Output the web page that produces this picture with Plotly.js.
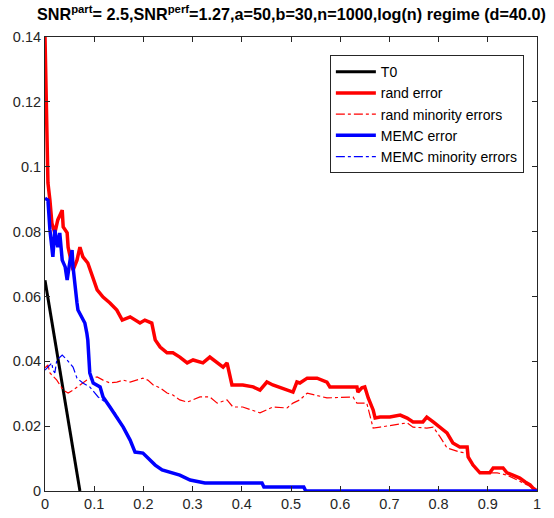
<!DOCTYPE html>
<html>
<head>
<meta charset="utf-8">
<script src="https://cdn.plot.ly/plotly-3.0.1.min.js"></script>
<style>html,body{margin:0;padding:0;background:#fff;}#chart{width:554px;height:518px;}</style>
</head>
<body>
<div id="chart"></div>
<script>
// T0
const t0X = [0, 0.071];
const t0Y = [0.065, 0];

// rand error
const randX = [0, 0.003, 0.006, 0.010, 0.014, 0.020, 0.026, 0.035, 0.037, 0.045, 0.047, 0.057, 0.065, 0.071, 0.077, 0.087, 0.096, 0.106, 0.118, 0.132, 0.146, 0.157, 0.173, 0.193, 0.203, 0.217, 0.224, 0.234, 0.248, 0.260, 0.274, 0.289, 0.301, 0.321, 0.335, 0.350, 0.362, 0.370, 0.380, 0.402, 0.423, 0.437, 0.451, 0.463, 0.492, 0.504, 0.512, 0.518, 0.533, 0.553, 0.573, 0.579, 0.634, 0.636, 0.644, 0.650, 0.657, 0.667, 0.671, 0.681, 0.701, 0.722, 0.736, 0.748, 0.768, 0.776, 0.789, 0.803, 0.817, 0.829, 0.843, 0.858, 0.860, 0.870, 0.884, 0.904, 0.911, 0.931, 0.939, 0.951, 0.965, 0.976, 0.986, 0.992, 1.0];
const randY = [0.140, 0.120, 0.095, 0.0897, 0.0826, 0.0796, 0.0836, 0.0866, 0.0814, 0.0796, 0.0752, 0.0681, 0.0712, 0.0752, 0.0722, 0.0703, 0.0660, 0.0620, 0.0598, 0.0580, 0.0558, 0.0527, 0.0537, 0.0518, 0.0527, 0.0518, 0.0466, 0.0444, 0.0426, 0.0426, 0.0413, 0.0395, 0.0404, 0.0395, 0.0413, 0.0395, 0.0382, 0.0395, 0.0327, 0.0327, 0.0321, 0.0311, 0.0336, 0.0327, 0.0311, 0.0305, 0.0336, 0.0333, 0.0348, 0.0348, 0.0336, 0.0321, 0.0321, 0.0305, 0.0318, 0.0321, 0.0287, 0.0250, 0.0225, 0.0228, 0.0228, 0.0234, 0.0225, 0.0213, 0.0213, 0.0228, 0.0213, 0.0197, 0.0179, 0.0148, 0.0136, 0.0136, 0.0105, 0.0080, 0.0056, 0.0056, 0.0071, 0.0071, 0.0056, 0.0049, 0.0040, 0.0028, 0.0019, 0.0009, 0.0];

// rand minority errors
const randMinX = [0, 0.006, 0.010, 0.024, 0.037, 0.047, 0.057, 0.071, 0.085, 0.096, 0.106, 0.118, 0.132, 0.146, 0.159, 0.173, 0.187, 0.199, 0.209, 0.220, 0.234, 0.248, 0.260, 0.274, 0.289, 0.301, 0.315, 0.335, 0.350, 0.370, 0.382, 0.402, 0.437, 0.463, 0.492, 0.504, 0.518, 0.533, 0.573, 0.626, 0.634, 0.654, 0.667, 0.681, 0.707, 0.736, 0.748, 0.776, 0.789, 0.803, 0.817, 0.843, 0.858, 0.870, 0.884, 0.919, 0.939, 0.959, 0.980, 1.0];
const randMinY = [0.0380, 0.0389, 0.0364, 0.0342, 0.0311, 0.0302, 0.0311, 0.0327, 0.0342, 0.0348, 0.0352, 0.0342, 0.0333, 0.0336, 0.0342, 0.0336, 0.0342, 0.0348, 0.0342, 0.0327, 0.0318, 0.0302, 0.0296, 0.0281, 0.0274, 0.0281, 0.0290, 0.0290, 0.0271, 0.0281, 0.0259, 0.0259, 0.0241, 0.0259, 0.0256, 0.0271, 0.0281, 0.0302, 0.0287, 0.0290, 0.0271, 0.0271, 0.0194, 0.0197, 0.0204, 0.0210, 0.0197, 0.0194, 0.0197, 0.0167, 0.0133, 0.0120, 0.0117, 0.0074, 0.0056, 0.0056, 0.0049, 0.0034, 0.0019, 0.0];

// MEMC error
const memcX = [0, 0.006, 0.010, 0.016, 0.020, 0.026, 0.030, 0.035, 0.041, 0.045, 0.051, 0.055, 0.057, 0.061, 0.065, 0.067, 0.075, 0.081, 0.085, 0.087, 0.091, 0.098, 0.112, 0.118, 0.132, 0.146, 0.159, 0.173, 0.183, 0.199, 0.213, 0.224, 0.238, 0.254, 0.274, 0.295, 0.325, 0.441, 0.445, 0.526, 0.530, 1.0];
const memcY = [0.0903, 0.0897, 0.0805, 0.0722, 0.0805, 0.0752, 0.0796, 0.0712, 0.0691, 0.0651, 0.0712, 0.0743, 0.0691, 0.0620, 0.0580, 0.0558, 0.0537, 0.0518, 0.0487, 0.0466, 0.0364, 0.0333, 0.0321, 0.0290, 0.0259, 0.0228, 0.0197, 0.0157, 0.0120, 0.0117, 0.0096, 0.0080, 0.0065, 0.0059, 0.0049, 0.0034, 0.0025, 0.0025, 0.0012, 0.0012, 0.0, 0.0];

// MEMC minority errors
const memcMinX = [0, 0.014, 0.016, 0.020, 0.024, 0.035, 0.045, 0.057, 0.065, 0.077, 0.091, 0.108, 0.126, 0.138, 0.148, 0.152, 0.159, 0.173, 0.183, 0.199, 0.213, 0.224, 0.238, 0.254, 0.274, 0.295, 0.325, 0.441, 0.445, 0.526, 0.530, 1.0];
const memcMinY = [0.0373, 0.0395, 0.0373, 0.0364, 0.0404, 0.0419, 0.0404, 0.0382, 0.0348, 0.0333, 0.0321, 0.0290, 0.0271, 0.0250, 0.0228, 0.0210, 0.0197, 0.0157, 0.0120, 0.0117, 0.0096, 0.0080, 0.0065, 0.0059, 0.0049, 0.0034, 0.0025, 0.0025, 0.0012, 0.0012, 0.0, 0.0];

const seriesNames = ['T0', 'rand error', 'rand minority errors', 'MEMC error', 'MEMC minority errors'];
const xTicks = [0, 0.1, 0.2, 0.3, 0.4, 0.5, 0.6, 0.7, 0.8, 0.9, 1];
const yTicks = [0, 0.02, 0.04, 0.06, 0.08, 0.1, 0.12, 0.14];

const traces = [
  {x: t0X, y: t0Y, name: seriesNames[0], mode: 'lines', line: {color: '#000000', width: 3}},
  {x: randX, y: randY, name: seriesNames[1], mode: 'lines', line: {color: '#FF0000', width: 3.5}},
  {x: randMinX, y: randMinY, name: seriesNames[2], mode: 'lines', line: {color: '#FF0000', width: 1.2, dash: 'dashdot'}},
  {x: memcX, y: memcY, name: seriesNames[3], mode: 'lines', line: {color: '#0000FF', width: 3.5}},
  {x: memcMinX, y: memcMinY, name: seriesNames[4], mode: 'lines', line: {color: '#0000FF', width: 1.2, dash: 'dashdot'}}
];

const axisCommon = {
  showgrid: false, zeroline: false, showline: true, linecolor: '#262626', linewidth: 1,
  mirror: 'ticks', ticks: 'inside', ticklen: 5, tickcolor: '#262626',
  tickfont: {family: 'Liberation Sans, Arial, sans-serif', size: 14.5, color: '#262626'}
};

const layout = {
  width: 554, height: 518,
  margin: {l: 45, r: 17, t: 37, b: 27},
  paper_bgcolor: '#ffffff', plot_bgcolor: '#ffffff',
  title: {
    text: '<b>SNR<sup>part</sup>= 2.5,SNR<sup>perf</sup>=1.27,a=50,b=30,n=1000,log(n) regime (d=40.0)</b>',
    font: {family: 'Liberation Sans, Arial, sans-serif', size: 16.2, color: '#000000'},
    x: 0.526, xanchor: 'center', y: 0.972, yanchor: 'middle'
  },
  xaxis: Object.assign({}, axisCommon, {range: [0, 1], tickvals: xTicks, ticktext: xTicks.map(String)}),
  yaxis: Object.assign({}, axisCommon, {range: [0, 0.14], tickvals: yTicks, ticktext: yTicks.map(String)}),
  showlegend: true,
  legend: {
    x: 0.579, y: 0.96, xanchor: 'left', yanchor: 'top',
    bgcolor: '#ffffff', bordercolor: '#262626', borderwidth: 1,
    font: {family: 'Liberation Sans, Arial, sans-serif', size: 14, color: '#000000'},
    itemwidth: 40, tracegroupgap: 0
  }
};

Plotly.newPlot('chart', traces, layout, {displayModeBar: false, staticPlot: true});
</script>
</body>
</html>
